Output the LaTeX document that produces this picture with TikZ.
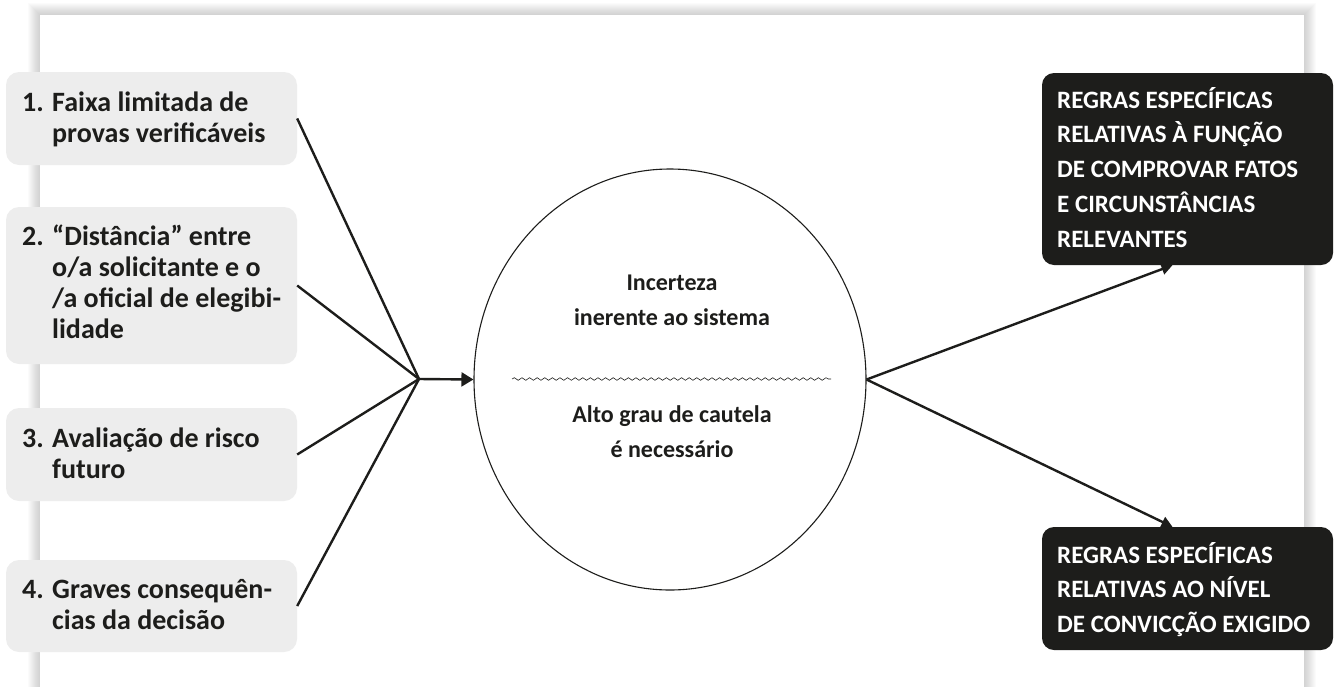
\documentclass[tikz,border=0pt]{standalone}
\usepackage{fontspec}
\setmainfont{Carlito}
\usetikzlibrary{arrows.meta,shapes.geometric,decorations.pathmorphing}
\definecolor{ink}{HTML}{1D1D1B}
\definecolor{boxgray}{HTML}{EDEDED}
\begin{document}
\begin{tikzpicture}[x=1pt,y=-1pt,
  lbox/.style={fill=boxgray, rounded corners=13pt, minimum width=291pt, inner sep=0pt},
  rbox/.style={fill=ink, rounded corners=12pt, minimum width=291pt, inner sep=0pt},
  ltext/.style={anchor=base west, inner sep=0pt, text=ink, font=\fontsize{28}{31}\selectfont\bfseries},
  ctext/.style={anchor=base, inner sep=0pt, text=ink, font=\fontsize{24}{35}\selectfont\bfseries},
  rtext/.style={anchor=base west, inner sep=0pt, text=white, font=\fontsize{25}{34.8}\selectfont\bfseries},
  conn/.style={draw=ink, line width=2.4pt},
  conntip/.style={-{Triangle[length=12pt,width=14pt]}},
  rtip/.style={-{Triangle[length=11pt,width=11pt]}}
]
\useasboundingbox (0,0) rectangle (1334,686);
% panel shadow
\foreach \i in {1,...,12}{
  \fill[black,opacity=0.016] (40-\i,15-\i) rectangle (1304+\i,700);
}
\fill[white] (40,15) rectangle (1304,700);

% left boxes
\node[lbox, minimum height=93pt] (b1) at (151.5,118.5) {};
\node[lbox, minimum height=157pt] (b2) at (151.5,285.5) {};
\node[lbox, minimum height=93pt] (b3) at (151.5,454.5) {};
\node[lbox, minimum height=92pt] (b4) at (151.5,606) {};

\node[ltext] (t1) at (22,111) {\begin{tabular}[t]{@{}p{30pt}@{}l@{}}1.&Faixa limitada de\\&provas verificáveis\end{tabular}};
\node[ltext] (t2) at (22,245) {\begin{tabular}[t]{@{}p{30pt}@{}l@{}}2.&“Distância” entre\\&o/a solicitante e o\\&/a oficial de elegibi-\\&lidade\end{tabular}};
\node[ltext] (t3) at (22,447) {\begin{tabular}[t]{@{}p{30pt}@{}l@{}}3.&Avaliação de risco\\&futuro\end{tabular}};
\node[ltext] (t4) at (22,598) {\begin{tabular}[t]{@{}p{30pt}@{}l@{}}4.&Graves consequên-\\&cias da decisão\end{tabular}};

% central ellipse
\node[draw=ink, line width=1.1pt, ellipse, minimum width=392pt, minimum height=421pt, inner sep=0pt] (c) at (670,379.5) {};
\node[ctext] (ct1) at (672,290) {\begin{tabular}[t]{@{}c@{}}Incerteza\\inerente ao sistema\end{tabular}};
\node[ctext] (ct2) at (672,422) {\begin{tabular}[t]{@{}c@{}}Alto grau de cautela\\é necessário\end{tabular}};
\coordinate (w1) at (512,379);
\coordinate (w2) at (831,379);
\draw[ink, line width=0.6pt, decorate, decoration={snake, segment length=7.6pt, amplitude=1.3pt}] (w1) -- (w2);

% right boxes
\node[rbox, minimum height=192pt] (r1) at (1187.5,169) {};
\node[rbox, minimum height=123pt] (r2) at (1187.5,588.5) {};
\node[rtext] (rt1) at (1057,108) {\begin{tabular}[t]{@{}l@{}}REGRAS ESPECÍFICAS\\RELATIVAS À FUNÇÃO\\DE COMPROVAR FATOS\\E CIRCUNSTÂNCIAS\\RELEVANTES\end{tabular}};
\node[rtext] (rt2) at (1057,563) {\begin{tabular}[t]{@{}l@{}}REGRAS ESPECÍFICAS\\RELATIVAS AO NÍVEL\\DE CONVICÇÃO EXIGIDO\end{tabular}};

% connectors
\coordinate (hub) at (419,379);
\draw[conn] (b1.east) -- (hub);
\draw[conn] (b2.east) -- (hub);
\draw[conn] (b3.east) -- (hub);
\draw[conn] (b4.east) -- (hub);
\draw[conn, conntip] (hub) -- (c.west);
\draw[conn, rtip] (c.east) -- ([xshift=-15pt]r1.south);
\draw[conn, rtip] (c.east) -- ([xshift=-15pt]r2.north);
\end{tikzpicture}
\end{document}
